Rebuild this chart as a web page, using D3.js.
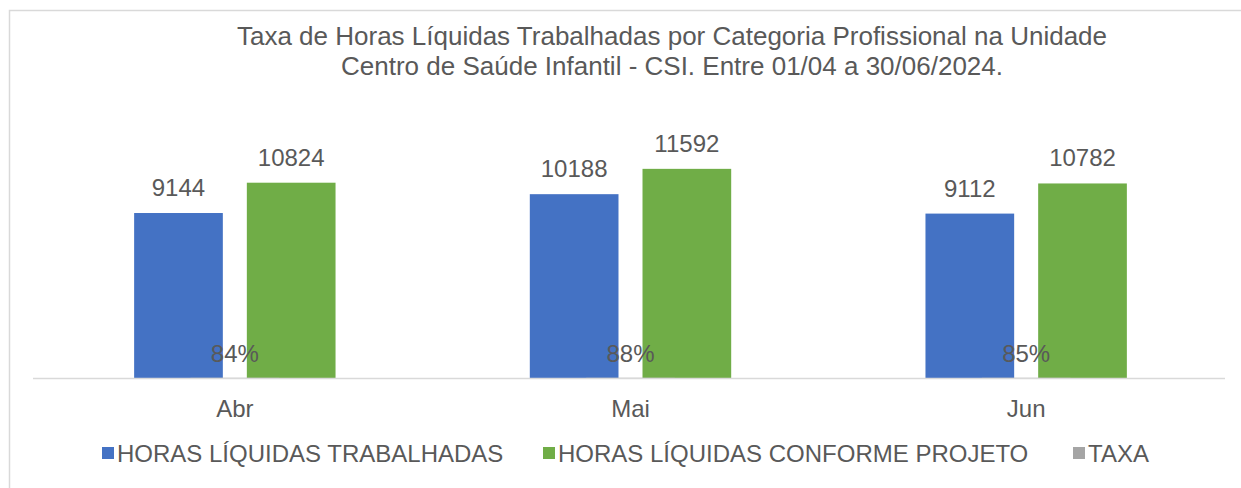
<!DOCTYPE html>
<html lang="pt">
<head>
<meta charset="UTF-8">
<title>Taxa de Horas Líquidas Trabalhadas</title>
<script src="https://d3js.org/d3.v7.min.js"></script>
<style>
  body { margin: 0; background: #fff; }
  svg text { font-family: "Liberation Sans", Arial, sans-serif; fill: #595959; }
</style>
</head>
<body>
<svg width="1241" height="488"></svg>
<script>
// dados
const meses = ["Abr", "Mai", "Jun"];
const horasTrabalhadas = [9144, 10188, 9112];
const horasProjeto = [10824, 11592, 10782];
const taxa = [0.84, 0.88, 0.85];
const seriesNomes = ["HORAS LÍQUIDAS TRABALHADAS", "HORAS LÍQUIDAS CONFORME PROJETO", "TAXA"];
const cores = ["#4472C4", "#70AD47", "#A5A5A5"];
const titulo = [
  "Taxa de Horas Líquidas Trabalhadas por Categoria Profissional na Unidade",
  "Centro de Saúde Infantil - CSI. Entre 01/04 a 30/06/2024."
];

const svg = d3.select("svg");

// moldura
svg.append("rect")
  .attr("x", 9.5).attr("y", 10.5)
  .attr("width", 1260).attr("height", 500)
  .attr("fill", "none")
  .attr("stroke", "#D9D9D9")
  .attr("stroke-width", 1.5);

svg.append("g").selectAll("text")
  .data(titulo)
  .join("text")
  .attr("x", 672)
  .attr("y", (d, i) => 45 + i * 30)
  .attr("text-anchor", "middle")
  .style("font-size", "26px")
  .text(d => d);

const baseY = 378;
const x0 = d3.scaleBand().domain(meses).range([37, 1224]).paddingInner(0.491).paddingOuter(0.2455);
const x1 = d3.scaleBand().domain([0, 1]).range([0, x0.bandwidth()]).paddingInner(0.213);
const y = d3.scaleLinear().domain([0, 14000]).range([baseY, baseY - 252.6]);
// eixo secundário da taxa
const y2 = d3.scaleLinear().domain([0, 1000]).range([baseY, baseY - 252.6]);

const valores = [horasTrabalhadas, horasProjeto];

const grupos = svg.append("g").selectAll("g")
  .data(meses)
  .join("g")
  .attr("transform", d => `translate(${x0(d)},0)`);

grupos.selectAll("rect")
  .data((m, i) => valores.map((s, k) => ({ k, v: s[i] })))
  .join("rect")
  .attr("x", d => x1(d.k))
  .attr("y", d => y(d.v))
  .attr("width", x1.bandwidth())
  .attr("height", d => baseY - y(d.v))
  .attr("fill", d => cores[d.k]);

grupos.selectAll("text.val")
  .data((m, i) => valores.map((s, k) => ({ k, v: s[i] })))
  .join("text")
  .attr("class", "val")
  .attr("x", d => x1(d.k) + x1.bandwidth() / 2)
  .attr("y", d => y(d.v) - 17)
  .attr("text-anchor", "middle")
  .style("font-size", "24px")
  .text(d => d.v);

// taxa (eixo secundário, barra quase nula)
grupos.append("rect")
  .attr("x", x0.bandwidth() / 2 - x1.bandwidth() / 2)
  .attr("y", (m, i) => y2(taxa[i]))
  .attr("width", x1.bandwidth())
  .attr("height", (m, i) => baseY - y2(taxa[i]))
  .attr("fill", cores[2]);

grupos.append("text")
  .attr("x", x0.bandwidth() / 2)
  .attr("y", (m, i) => y2(taxa[i]) - 16)
  .attr("text-anchor", "middle")
  .style("font-size", "24px")
  .text((m, i) => d3.format(".0%")(taxa[i]));

// eixo x
const eixo = svg.append("g")
  .attr("transform", `translate(0,${baseY})`)
  .call(d3.axisBottom(x0).tickSize(0).tickPadding(22));
eixo.select(".domain").attr("stroke", "#D9D9D9").attr("stroke-width", 1.5).attr("d", "M33,0.5H1225");
eixo.selectAll("text").style("font-size", "24px").style("font-family", "Liberation Sans, Arial, sans-serif").attr("fill", "#595959");

// legenda
const legX = [102, 543, 1073];
const leg = svg.append("g").selectAll("g")
  .data(seriesNomes)
  .join("g")
  .attr("transform", (d, i) => `translate(${legX[i]},453)`);
leg.append("rect").attr("x", 0).attr("y", -6).attr("width", 12).attr("height", 12).attr("fill", (d, i) => cores[i]);
leg.append("text").attr("x", 15).attr("y", 8.5).style("font-size", "24px").text(d => d);
</script>
</body>
</html>
